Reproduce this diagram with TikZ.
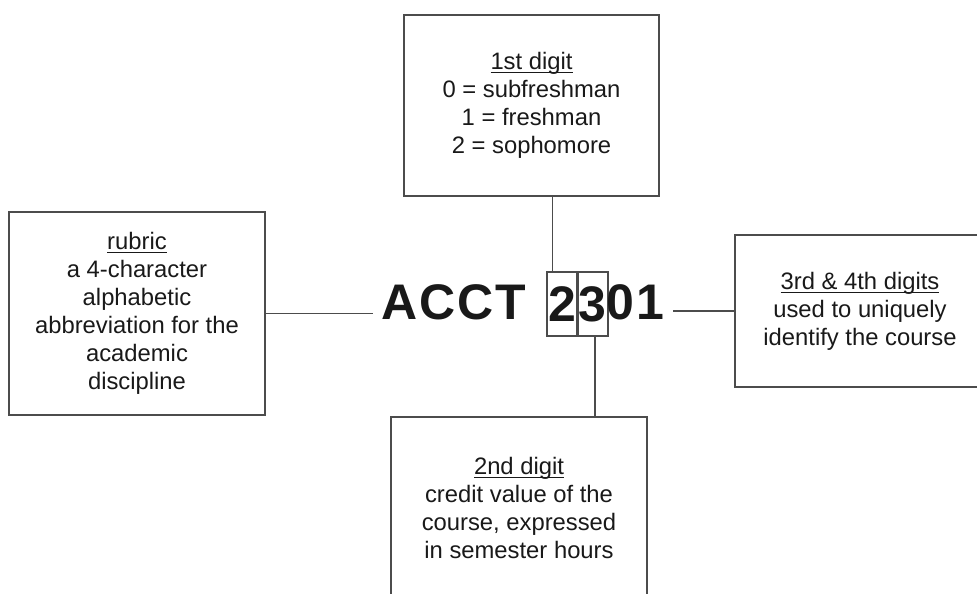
\documentclass[tikz,border=0pt]{standalone}
\usepackage{fontspec}
\setmainfont{Liberation Sans}
\usetikzlibrary{positioning}
\newcommand{\headline}[1]{\underline{\smash{#1}}\vphantom{#1}}
\begin{document}
\begin{tikzpicture}[x=0.5pt,y=-0.5pt,line width=0.6pt,
  info/.style={draw=black!70,align=center,font=\fontsize{11.9}{14}\selectfont,text=black!90},
  big/.style={font=\fontsize{25}{30}\selectfont\bfseries,text=black!90,inner sep=4pt},
  digit/.style={big,draw=black!70,inner sep=0pt,minimum width=15.5pt,minimum height=32pt}]
\useasboundingbox (0,0) rectangle (977,593);
\clip (0,0) rectangle (977,593);
\node[info,minimum width=127.5pt,minimum height=90.5pt] (first) at (531.5,105.5) {\headline{1st digit}\\0 = subfreshman\\1 = freshman\\2 = sophomore};
\node[info,minimum width=128pt,minimum height=101.5pt] (rubric) at (137,313.5) {\headline{rubric}\\a 4-character\\alphabetic\\abbreviation for the\\academic\\discipline};
\node[info,minimum width=125pt,minimum height=76pt] (last) at (860,311) {\headline{3rd \& 4th digits}\\used to uniquely\\identify the course};
\node[info,minimum width=128pt,minimum height=91pt] (second) at (519,508) {\headline{2nd digit}\\credit value of the\\course, expressed\\in semester hours};
\node[big,anchor=base] (acct) at (454,319) {A\kern1pt C\kern1pt C\kern1pt T};
\node[digit] (dtwo) at (562.5,304) {2};
\node[digit] (dthree) at (592.5,304) {3};
\node[big,anchor=base] (rest) at (635.5,319) {0\kern1pt 1};
\draw[black!70] (rubric.east) -- (rubric.east -| acct.west);
\draw[black!70] (last.west) -- (last.west -| rest.east);
\draw[black!70] ([xshift=3pt]dtwo.north west) -- ([xshift=3pt]dtwo.north west |- first.south);
\draw[black!70] ([xshift=1.25pt]dthree.south) -- ([xshift=1.25pt]dthree.south |- second.north);
\end{tikzpicture}
\end{document}
